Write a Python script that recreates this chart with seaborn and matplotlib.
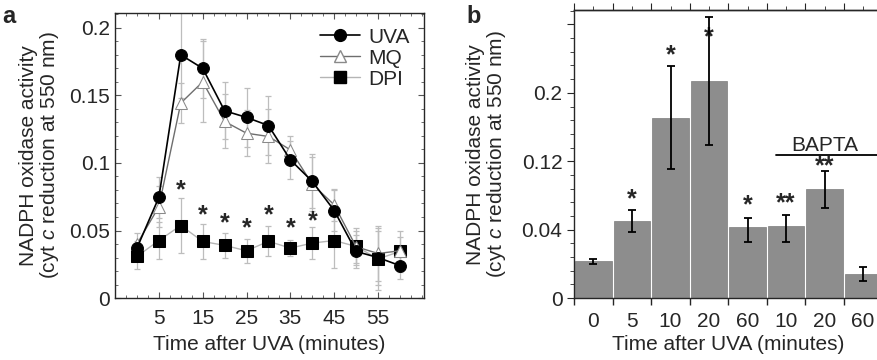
import numpy as np
import pandas as pd
import seaborn as sns
from matplotlib import pyplot as plt
from matplotlib.ticker import FixedLocator, MultipleLocator, NullFormatter

# panel a: time course
minutes = [0, 5, 10, 15, 20, 25, 30, 35, 40, 45, 50, 55, 60]
uva = [0.037, 0.0745, 0.180, 0.170, 0.1386, 0.1337, 0.1277, 0.1023, 0.0863, 0.0648, 0.0345, 0.030, 0.024]
uva_err = [0.005, 0.015, 0.032, 0.022, 0.021, 0.022, 0.022, 0.014, 0.02, 0.015, 0.012, 0.02, 0.01]
mq = [0.040, 0.0676, 0.1443, 0.160, 0.1307, 0.122, 0.1196, 0.1097, 0.0843, 0.069, 0.038, 0.033, 0.035]
mq_err = [0.008, 0.015, 0.015, 0.03, 0.02, 0.017, 0.02, 0.01, 0.02, 0.012, 0.012, 0.02, 0.01]
dpi = [0.0308, 0.0426, 0.0537, 0.0419, 0.039, 0.035, 0.042, 0.037, 0.0407, 0.0426, 0.0382, 0.029, 0.0345]
dpi_err = [0.009, 0.014, 0.02, 0.013, 0.009, 0.009, 0.011, 0.006, 0.012, 0.02, 0.014, 0.023, 0.015]
star_min = [10, 15, 20, 25, 30, 35, 40]
star_a_y = [0.080, 0.061, 0.0557, 0.052, 0.061, 0.052, 0.0567]

# panel b: bars
bar_labels = ["0", "5", "10", "20", "60", "10", "20", "60"]
bar_vals = [0.0214, 0.0505, 0.171, 0.214, 0.0434, 0.0448, 0.087, 0.0141]
bar_err = [0.0016, 0.012, 0.06, 0.075, 0.0105, 0.012, 0.022, 0.004]
bar_stars = ["", "*", "*", "*", "*", "**", "**", ""]
star_b_y = [0, 0.076, 0.2439, 0.265, 0.0684, 0.0711, 0.1145, 0]

sns.set_style("ticks")
plt.rcParams["font.family"] = ["Liberation Sans", "DejaVu Sans"]
plt.rcParams["mathtext.fontset"] = "custom"
plt.rcParams["mathtext.rm"] = "Liberation Sans"
plt.rcParams["mathtext.it"] = "Liberation Sans:italic"
plt.rcParams["axes.linewidth"] = 1.0

FS = 15
SFS = 18
ylab = "NADPH oxidase activity\n(cyt $\\it{c}$ reduction at 550 nm)"

fig = plt.figure(figsize=(8.78, 3.6), dpi=100)
ax1 = fig.add_axes([0.131, 0.172, 0.352, 0.792])
ax2 = fig.add_axes([0.654, 0.172, 0.351, 0.800])

# ---- panel a
df = pd.DataFrame({"min": minutes, "UVA": uva, "MQ": mq, "DPI": dpi})
ebkw = dict(fmt="none", ecolor="#bdbdbd", elinewidth=0.9, capsize=2, capthick=0.9, zorder=1)
ax1.errorbar(minutes, uva, yerr=uva_err, **ebkw)
ax1.errorbar(minutes, mq, yerr=mq_err, **ebkw)
ax1.errorbar(minutes, dpi, yerr=dpi_err, **ebkw)

sns.lineplot(data=df, x="min", y="DPI", ax=ax1, color="#b5b5b5", lw=1.0, marker="s",
             markersize=8.5, markerfacecolor="black", markeredgecolor="black", zorder=3)
sns.lineplot(data=df, x="min", y="MQ", ax=ax1, color="#6e6e6e", lw=1.0, marker="^",
             markersize=9, markerfacecolor="white", markeredgecolor="#8a8a8a", zorder=4)
sns.lineplot(data=df, x="min", y="UVA", ax=ax1, color="black", lw=1.2, marker="o",
             markersize=8.5, markerfacecolor="black", markeredgecolor="black", zorder=5)

for xm, ys in zip(star_min, star_a_y):
    ax1.text(xm, ys, "*", ha="center", va="center", fontsize=SFS, fontweight="bold")

h = [plt.Line2D([], [], color="black", lw=1.2, marker="o", ms=8.5),
     plt.Line2D([], [], color="#6e6e6e", lw=1.0, marker="^", ms=9, mfc="white", mec="#8a8a8a"),
     plt.Line2D([], [], color="#b5b5b5", lw=1.0, marker="s", ms=8.5, mfc="black", mec="black")]
ax1.legend(h, ["UVA", "MQ", "DPI"], loc="upper right", frameon=False, fontsize=FS,
           handlelength=1.9, handletextpad=0.4, labelspacing=0.1, borderaxespad=0.3,
           bbox_to_anchor=(1.0, 1.0))

ax1.set_xlim(-5, 65.5)
ax1.set_ylim(0, 0.211)
ax1.xaxis.set_major_locator(FixedLocator([5, 15, 25, 35, 45, 55]))
ax1.xaxis.set_minor_locator(MultipleLocator(2.5))
ax1.yaxis.set_major_locator(FixedLocator([0, 0.05, 0.1, 0.15, 0.2]))
ax1.yaxis.set_minor_locator(MultipleLocator(0.01))
ax1.set_yticklabels(["0", "0.05", "0.1", "0.15", "0.2"])
ax1.tick_params(axis="both", which="both", labelsize=FS, top=True, right=True,
                direction="in", color="#555555")
ax1.tick_params(axis="both", which="major", length=4)
ax1.tick_params(axis="both", which="minor", length=2.5)
ax1.tick_params(axis="x", which="major", pad=8)
ax1.set_xlabel("Time after UVA (minutes)", fontsize=FS, labelpad=5)
ax1.set_ylabel(ylab, fontsize=FS, labelpad=6, linespacing=1.0)


# ---- panel b: piecewise axis (0-0.04 then 0.08 per step)
def fwd(v):
    v = np.asarray(v, dtype=float)
    return np.where(v <= 0.04, v / 0.04, 1 + (v - 0.04) / 0.08)


def inv(u):
    u = np.asarray(u, dtype=float)
    return np.where(u <= 1, u * 0.04, 0.04 + (u - 1) * 0.08)


ax2.set_yscale("function", functions=(fwd, inv))
pos = np.arange(len(bar_vals))
sns.barplot(x=pos, y=bar_vals, ax=ax2, color="#8d8d8d", width=0.95, saturation=1,
            edgecolor="#7d7d7d", linewidth=0.5, native_scale=True)
ax2.errorbar(pos, bar_vals, yerr=bar_err, fmt="none", ecolor="black", elinewidth=1.3,
             capsize=3, capthick=1.3, zorder=5)
for p, s, ys in zip(pos, bar_stars, star_b_y):
    if s:
        ax2.text(p, ys, s, ha="center", va="center", fontsize=SFS, fontweight="bold")

ax2.plot([4.74, 7.6], [0.1278, 0.1278], color="black", lw=1.3, clip_on=False)
ax2.text(6.0, 0.1325, "BAPTA", ha="center", va="baseline", fontsize=FS)

ax2.set_xlim(-0.5, 7.5)
ax2.set_ylim(0, float(inv(4.21)))
ax2.yaxis.set_major_locator(FixedLocator([0, 0.04, 0.12, 0.2, 0.28]))
ax2.yaxis.set_minor_locator(FixedLocator(inv(np.arange(0, 4.21, 0.2))))
ax2.yaxis.set_minor_formatter(NullFormatter())
ax2.set_yticklabels(["0", "0.04", "0.12", "0.2", ""])
ax2.xaxis.set_major_locator(FixedLocator(pos))
ax2.set_xticklabels(bar_labels)
ax2.xaxis.set_minor_locator(FixedLocator(pos - 0.5))
ax2.tick_params(axis="x", which="major", length=0, pad=10, labelsize=FS)
ax2.tick_params(axis="x", which="minor", length=5, direction="out", width=1.0)
ax2.tick_params(axis="y", which="major", length=5, direction="out", labelsize=FS)
ax2.tick_params(axis="y", which="minor", length=3, direction="out")
sec = ax2.secondary_xaxis("top")
sec.xaxis.set_major_locator(FixedLocator(pos - 0.5))
sec.xaxis.set_minor_locator(FixedLocator(pos))
sec.tick_params(which="major", length=5, direction="out", labeltop=False)
sec.tick_params(which="minor", length=3, direction="out")
sec.set_xticklabels([])
ax2.spines["right"].set_visible(False)
ax2.set_xlabel("Time after UVA (minutes)", fontsize=FS, labelpad=3)
ax2.set_ylabel(ylab, fontsize=FS, labelpad=10, linespacing=1.0)

fig.text(0.003, 0.955, "a", fontsize=17, fontweight="bold", va="center")
fig.text(0.531, 0.955, "b", fontsize=17, fontweight="bold", va="center")

fig.savefig("out.png", dpi=100)
